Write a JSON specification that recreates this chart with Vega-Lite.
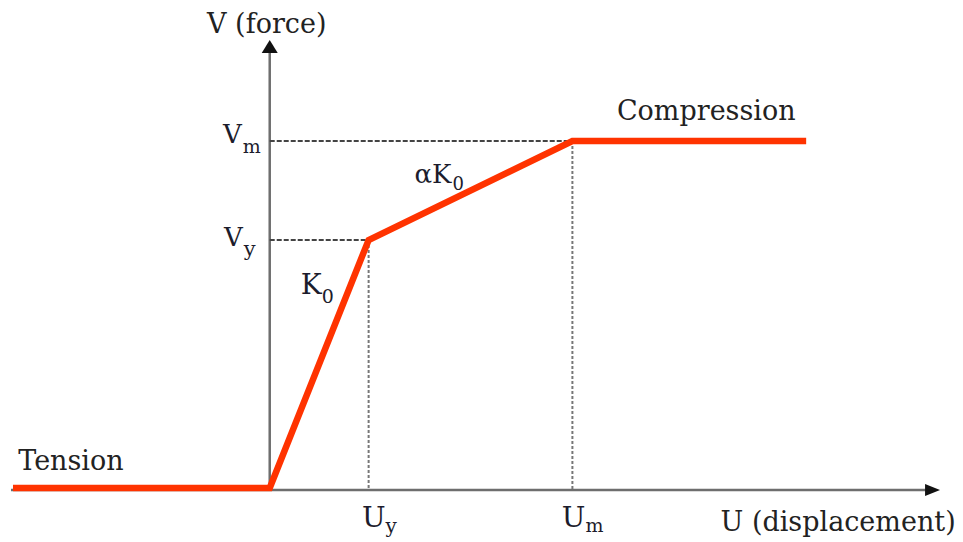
{
  "$schema": "https://vega.github.io/schema/vega-lite/v6.json",
  "width": 963,
  "height": 542,
  "autosize": {"type": "fit", "contains": "padding"},
  "padding": 0,
  "background": "white",
  "config": {"view": {"stroke": null}},
  "datasets": {
    "curve": [
      {"order": 1, "u": -2.57, "v": 0.02},
      {"order": 2, "u": 0.0, "v": 0.02},
      {"order": 3, "u": 0.99, "v": 2.5},
      {"order": 4, "u": 3.03, "v": 3.49},
      {"order": 5, "u": 5.37, "v": 3.49}
    ],
    "axes": [
      {"name": "U", "u": -2.59, "v": 0, "u2": 6.58, "v2": 0},
      {"name": "V", "u": 0, "v": 0, "u2": 0, "v2": 4.4}
    ],
    "headU": [{"u": 6.635, "v": 0}],
    "headV": [{"u": 0, "v": 4.435}],
    "levels": [
      {"name": "Vy", "u": 0, "v": 2.5, "u2": 0.99, "v2": 2.5},
      {"name": "Vm", "u": 0, "v": 3.49, "u2": 3.03, "v2": 3.49}
    ],
    "drops": [
      {"name": "Uy", "u": 0.99, "v": 2.5, "u2": 0.99, "v2": 0},
      {"name": "Um", "u": 3.03, "v": 3.49, "u2": 3.03, "v2": 0}
    ],
    "titles": [
      {"text": "V (force)", "u": -0.03, "v": 4.57},
      {"text": "Compression", "u": 4.37, "v": 3.7},
      {"text": "Tension", "u": -1.99, "v": 0.2},
      {"text": "U (displacement)", "u": 5.69, "v": -0.41}
    ],
    "symbols": [
      {"text": "V", "u": -0.28, "v": 3.47, "size": 26},
      {"text": "V", "u": -0.27, "v": 2.44, "size": 26},
      {"text": "K", "u": 0.52, "v": 1.96, "size": 28},
      {"text": "αK", "u": 1.82, "v": 3.07, "size": 26},
      {"text": "U", "u": 1.16, "v": -0.37, "size": 28},
      {"text": "U", "u": 3.16, "v": -0.37, "size": 28}
    ],
    "subscripts": [
      {"text": "m", "u": -0.27, "v": 3.37, "size": 19},
      {"text": "y", "u": -0.26, "v": 2.34, "size": 21},
      {"text": "0", "u": 0.52, "v": 1.87, "size": 19},
      {"text": "0", "u": 1.83, "v": 3.0, "size": 18},
      {"text": "y", "u": 1.16, "v": -0.43, "size": 20},
      {"text": "m", "u": 3.16, "v": -0.42, "size": 19}
    ]
  },
  "encoding": {
    "x": {"field": "u", "type": "quantitative", "axis": null,
          "scale": {"domain": [-2.69, 6.94], "nice": false, "zero": false}},
    "y": {"field": "v", "type": "quantitative", "axis": null,
          "scale": {"domain": [-0.52, 4.9], "nice": false, "zero": false}}
  },
  "layer": [
    {
      "data": {"name": "axes"},
      "mark": {"type": "rule", "color": "#6e6e6e", "strokeWidth": 2.5},
      "encoding": {"x2": {"field": "u2"}, "y2": {"field": "v2"}}
    },
    {
      "data": {"name": "headU"},
      "mark": {"type": "point", "shape": "M-1,-0.8L1,0L-1,0.8Z", "size": 225,
               "filled": true, "color": "#111111", "opacity": 1}
    },
    {
      "data": {"name": "headV"},
      "mark": {"type": "point", "shape": "M-1,0.8L0,-0.8L1,0.8Z", "size": 256,
               "filled": true, "color": "#111111", "opacity": 1}
    },
    {
      "data": {"name": "levels"},
      "mark": {"type": "rule", "color": "#444444", "strokeWidth": 2, "strokeDash": [5, 2]},
      "encoding": {"x2": {"field": "u2"}, "y2": {"field": "v2"}}
    },
    {
      "data": {"name": "drops"},
      "mark": {"type": "rule", "color": "#777777", "strokeWidth": 2, "strokeDash": [3, 2]},
      "encoding": {"x2": {"field": "u2"}, "y2": {"field": "v2"}}
    },
    {
      "data": {"name": "curve"},
      "mark": {"type": "line", "color": "#ff3300", "strokeWidth": 6.5,
               "strokeJoin": "miter", "strokeCap": "butt"},
      "encoding": {"order": {"field": "order", "type": "quantitative"}}
    },
    {
      "data": {"name": "titles"},
      "mark": {"type": "text", "font": "DejaVu Serif", "fontSize": 27,
               "align": "center", "baseline": "alphabetic", "color": "#222222"},
      "encoding": {"text": {"field": "text"}}
    },
    {
      "data": {"name": "symbols"},
      "mark": {"type": "text", "font": "DejaVu Serif",
               "align": "right", "baseline": "alphabetic", "color": "#1c1c2c"},
      "encoding": {"text": {"field": "text"},
                   "size": {"field": "size", "type": "quantitative", "scale": null}}
    },
    {
      "data": {"name": "subscripts"},
      "mark": {"type": "text", "font": "DejaVu Serif",
               "align": "left", "baseline": "alphabetic", "color": "#1c1c2c"},
      "encoding": {"text": {"field": "text"},
                   "size": {"field": "size", "type": "quantitative", "scale": null}}
    }
  ]
}
